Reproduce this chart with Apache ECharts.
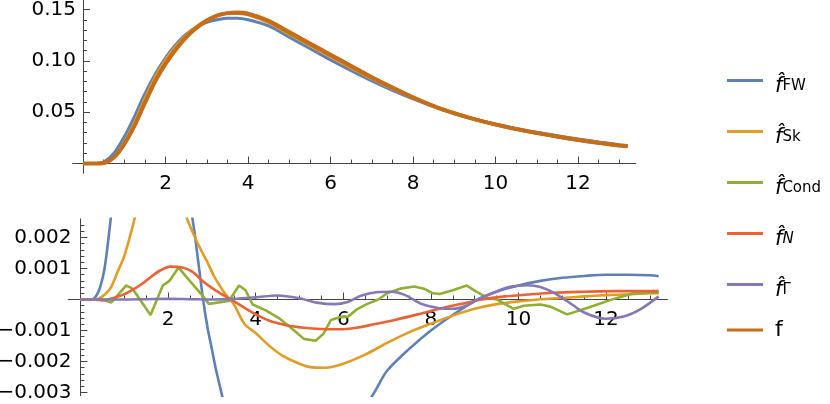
<!DOCTYPE html>
<html>
<head>
<meta charset="utf-8">
<script src="https://cdn.jsdelivr.net/npm/echarts@6.0.0/dist/echarts.min.js"></script>
<style>
html, body { margin: 0; padding: 0; background: #fff; }
#main { width: 830px; height: 404px; }
</style>
</head>
<body>
<div id="main"></div>
<script>
// ---- top panel: the densities ----
var topX = [0, 0.25, 0.5, 0.75, 1, 1.25, 1.5, 1.75, 2, 2.25, 2.5, 2.75, 3, 3.25, 3.5, 3.75, 4, 4.5, 5, 5.5,
    6, 6.5, 7, 7.5, 8, 8.5, 9, 9.5, 10, 10.5, 11, 11.5, 12, 12.5, 13, 13.2];
var fTrue = [0, 0, 0.0005, 0.006, 0.019, 0.037, 0.059, 0.080, 0.097, 0.111, 0.123, 0.132, 0.139, 0.144, 0.1465, 0.147, 0.146, 0.139, 0.128, 0.117,
    0.106, 0.095, 0.084, 0.074, 0.0645, 0.056, 0.049, 0.043, 0.038, 0.0335, 0.0297, 0.0263, 0.0231, 0.0202, 0.0176, 0.0168];
var fFW = [0, 0, 0.0015, 0.010, 0.026, 0.046, 0.068, 0.087, 0.103, 0.116, 0.126, 0.133, 0.1375, 0.140, 0.1415, 0.1415, 0.140, 0.134, 0.123, 0.112,
    0.101, 0.0905, 0.0805, 0.0713, 0.063, 0.0555, 0.0489, 0.0433, 0.0384, 0.0341, 0.0304, 0.0271, 0.0239, 0.0210, 0.0184, 0.0175];
var fSk = [0, 0, 0.0006, 0.0065, 0.0205, 0.040, 0.063, 0.084, 0.101, 0.114, 0.125, 0.1335, 0.140, 0.1444, 0.1463, 0.1462, 0.1449, 0.1372, 0.1259, 0.1149,
    0.1040, 0.0932, 0.0826, 0.0729, 0.0637, 0.0555, 0.0487, 0.0428, 0.0379, 0.0335, 0.0297, 0.0264, 0.0232, 0.0204, 0.0178, 0.0170];
var fCond = [0, 0, 0.0005, 0.0059, 0.0194, 0.0368, 0.0586, 0.0804, 0.0976, 0.1118, 0.1232, 0.1321, 0.1389, 0.1441, 0.1464, 0.1466, 0.1457, 0.1386, 0.1268, 0.1159,
    0.1055, 0.0949, 0.0842, 0.0744, 0.0647, 0.0563, 0.0492, 0.0430, 0.0377, 0.0333, 0.0295, 0.0262, 0.0231, 0.0203, 0.0178, 0.0170];
var fN = [0, 0, 0.0005, 0.0061, 0.0192, 0.0374, 0.0596, 0.0809, 0.0980, 0.1120, 0.1239, 0.1326, 0.1393, 0.1441, 0.1465, 0.1467, 0.1454, 0.1382, 0.1271, 0.1161,
    0.1051, 0.0942, 0.0834, 0.0735, 0.0642, 0.0559, 0.0490, 0.0431, 0.0381, 0.0336, 0.0299, 0.0265, 0.0234, 0.0205, 0.0179, 0.0171];
var fGamma = [0, 0, 0.0005, 0.006, 0.0190, 0.0370, 0.0590, 0.0800, 0.0970, 0.1110, 0.1230, 0.1320, 0.1390, 0.1440, 0.1465, 0.1470, 0.1461, 0.1391, 0.1279, 0.1169,
    0.1058, 0.0951, 0.0843, 0.0740, 0.0642, 0.0557, 0.0490, 0.0433, 0.0384, 0.0339, 0.0298, 0.0259, 0.0225, 0.0198, 0.0174, 0.0169];

// ---- bottom panel: estimate minus f ----
var dFWx = [0, 0.25, 0.35, 0.45, 0.55, 0.65, 0.8, 1, 1.5, 2, 2.3, 2.5, 2.6, 2.7, 2.8, 2.9, 3, 3.1, 3.2, 3.3,
    3.5, 4, 5, 6, 6.5, 6.75, 7, 7.5, 8, 8.5, 9, 9.5, 10, 10.5, 11, 11.5, 12, 12.5, 13, 13.2];
var dFW = [0, 0, 0.0001, 0.0004, 0.001, 0.0021, 0.004, 0.0065, 0.009, 0.0075, 0.0048, 0.0031, 0.0022, 0.0011, 0, -0.0009, -0.0016, -0.0023, -0.0029, -0.0035,
    -0.0045, -0.006, -0.0068, -0.005, -0.0035, -0.0029, -0.0023, -0.0016, -0.001, -0.0005, -0.00005, 0.00025, 0.00045, 0.0006, 0.0007, 0.00076, 0.0008, 0.0008, 0.00078, 0.00075];
var dSkx = [0, 0.25, 0.4, 0.5, 0.6, 0.7, 0.85, 1, 1.2, 1.5, 2, 2.3, 2.45, 2.6, 2.75, 2.9, 3.05, 3.2, 3.35, 3.5,
    3.75, 4, 4.3, 4.6, 5, 5.3, 5.6, 6, 6.5, 7, 7.5, 8, 8.5, 9, 9.5, 10, 10.5, 11, 11.5, 12, 12.5, 13, 13.2];
var dSk = [0, 0, 0.00002, 0.0001, 0.00022, 0.0004, 0.0009, 0.0014, 0.0024, 0.004, 0.0042, 0.0031, 0.00255, 0.00205, 0.0016, 0.0012, 0.00075, 0.0004, 0.0001, -0.00015,
    -0.0008, -0.00108, -0.00148, -0.0018, -0.00207, -0.00219, -0.0022, -0.00207, -0.00178, -0.0014, -0.00106, -0.00078, -0.00052, -0.0003, -0.00015, -0.00006, 0.00001, 0.00005, 0.0001, 0.00014,
    0.00017, 0.0002, 0.0002];
var dCondx = [0, 0.5, 0.7, 1.04, 1.19, 1.6, 1.88, 2.03, 2.24, 2.52, 2.8, 2.93, 3.39, 3.62, 3.77, 3.93, 4.23, 4.55, 4.88, 5.1,
    5.37, 5.55, 5.72, 5.95, 6.1, 6.33, 6.55, 6.8, 7, 7.3, 7.62, 7.84, 8.05, 8.2, 8.5, 8.82, 9.02, 9.29, 9.51, 9.89,
    10.12, 10.5, 10.73, 11.11, 11.41, 11.72, 12.17, 12.63, 13.2];
var dCond = [0, 0, -0.0001, 0.00045, 0.00035, -0.0005, 0.00045, 0.0006, 0.00103, 0.00056, 0.0001, -0.00014, -0.00005, 0.00045, 0.0003, -0.00016, -0.00035, -0.00062, -0.001, -0.00127,
    -0.00133, -0.0011, -0.00066, -0.00056, -0.00056, -0.0003, -0.00014, 0, 0.0002, 0.00035, 0.00042, 0.00035, 0.0002, 0.00018, 0.0003, 0.00045, 0.00027, 0.00005, 0, -0.0003,
    -0.0002, -0.00016, -0.00023, -0.00048, -0.00035, -0.0002, 0.00002, 0.0002, 0.00022];
var dNx = [0, 0.3, 0.5, 0.7, 0.95, 1.2, 1.4, 1.6, 1.8, 2.05, 2.3, 2.55, 2.8, 3.1, 3.5, 3.9, 4.3, 4.7, 5.1, 5.5,
    5.9, 6.3, 6.7, 7.2, 7.7, 8.2, 8.7, 9.2, 9.7, 10.2, 10.8, 11.5, 12.2, 13.2];
var dN = [0, 0, -0.00003, 0.00003, 0.00014, 0.00032, 0.0005, 0.00072, 0.00092, 0.00106, 0.00104, 0.0009, 0.00058, 0.00028, -0.00005, -0.0004, -0.00068, -0.00083, -0.00091, -0.00095,
    -0.00096, -0.00091, -0.0008, -0.00065, -0.00048, -0.0003, -0.00014, 0.00001, 0.0001, 0.00016, 0.00022, 0.00025, 0.00027, 0.00027];
var dGx = [0, 1, 1.5, 2, 2.5, 3, 3.5, 4, 4.5, 5, 5.4, 5.8, 6.1, 6.4, 6.8, 7.1, 7.4, 7.8, 8.2, 8.5,
    8.8, 9.1, 9.5, 9.8, 10.2, 10.5, 10.8, 11.1, 11.5, 12, 12.4, 12.8, 13.2];
var dG = [0, 0, 0.00001, 0.00002, 0.00001, 0, 0.00002, 0.00007, 0.00013, 0.00004, -0.0001, -0.00015, -0.00008, 0.00012, 0.00024, 0.00025, 0.00015, -0.00015, -0.00028, -0.0003,
    -0.0002, 0.00003, 0.00026, 0.00041, 0.00046, 0.0004, 0.00022, -0.00004, -0.00042, -0.00062, -0.00055, -0.0003, 0.0001];

// ---- names, colours, tick steps ----
var names = ['FW', 'Sk', 'Cond', 'N', 'Γ', 'f'];
var colors = ['#5E81B5', '#E19C24', '#8FB032', '#EB6235', '#8778B3', '#C56E1A'];
var xStep = 2, xMinorStep = 0.5;             // x ticks: labels 2 ... 12
var topYStep = 0.05, topYMinorStep = 0.01;   // 0.05, 0.10, 0.15
var botYStep = 0.001, botYMinorStep = 0.0002; // -0.003 ... 0.002

function pairs(xs, ys) {
    var out = [];
    for (var i = 0; i < xs.length; i++) out.push([xs[i], ys[i]]);
    return out;
}

var axisColor = '#444';
var labelStyle = { fontFamily: 'DejaVu Sans', fontSize: 20, color: '#000' };

// axis that only draws the line through zero (data grids)
function lineAxis(grid, min, max, pos, zeroIdx) {
    return {
        gridIndex: grid, type: 'value', min: min, max: max, position: pos,
        axisLine: { show: true, onZero: true, onZeroAxisIndex: zeroIdx, lineStyle: { color: axisColor, width: 1 } },
        axisTick: { show: false }, axisLabel: { show: false }, splitLine: { show: false }
    };
}
// axis that draws ticks (and maybe labels) on the edge of a helper grid
function tickAxis(grid, min, max, pos, step, len, fmt, margin, pad) {
    var ax = {
        gridIndex: grid, type: 'value', min: min, max: max, interval: step, position: pos,
        axisLine: { show: false, onZero: false },
        axisTick: { show: true, inside: true, length: len, lineStyle: { color: axisColor, width: 1 } },
        axisLabel: { show: false }, splitLine: { show: false }
    };
    if (fmt) {
        ax.axisLabel = { show: true, formatter: fmt, margin: margin, showMinLabel: true, showMaxLabel: true,
            align: pos === 'left' ? 'right' : 'center', lineHeight: 14, padding: pad || 0,
            fontFamily: labelStyle.fontFamily, fontSize: labelStyle.fontSize, color: labelStyle.color };
    }
    return ax;
}
function hiddenAxis(grid, min, max) {
    return { gridIndex: grid, type: 'value', min: min, max: max, show: false, splitLine: { show: false } };
}

var isZero = function (v) { return Math.abs(v) < 1e-12; };
var fmtX = function (v) { return isZero(v) ? '' : String(Math.round(v)); };
var fmtTop = function (v) { return isZero(v) ? '' : v.toFixed(2); };
var fmtBot = function (v) { return isZero(v) ? '' : (v < 0 ? '\u2212' : '') + Math.abs(v).toFixed(3); };

var series = [];
[fFW, fSk, fCond, fN, fGamma, fTrue].forEach(function (ys, i) {
    series.push({
        name: names[i], type: 'line', xAxisIndex: 0, yAxisIndex: 0,
        data: pairs(topX, ys), smooth: 0.3, symbol: 'none', z: 2 + i,
        lineStyle: { width: i === 5 ? 4 : 3, color: colors[i] },
        itemStyle: { color: colors[i] }
    });
});
[[dFWx, dFW], [dSkx, dSk], [dCondx, dCond], [dNx, dN], [dGx, dG]].forEach(function (d, i) {
    series.push({
        name: names[i], type: 'line', xAxisIndex: 3, yAxisIndex: 3,
        data: pairs(d[0], d[1]), smooth: i === 2 ? false : 0.3, symbol: 'none', z: 2 + i,
        lineStyle: { width: 2.6, color: colors[i] },
        itemStyle: { color: colors[i] }
    });
});

var myChart = echarts.init(document.getElementById('main'));
var option = {
    animation: false,
    backgroundColor: '#fff',
    color: colors,
    grid: [
        { left: 72.7, top: 0.3, width: 563.1, height: 173, outerBoundsMode: 'none' },      // 0 top data
        { left: 83, top: 9.54, width: 495.05, height: 154, outerBoundsMode: 'none' },      // 1 top major ticks
        { left: 83, top: 9.54, width: 536.3, height: 154, outerBoundsMode: 'none' },       // 2 top minor ticks
        { left: 68.2, top: 218.9, width: 599.2, height: 176.7, outerBoundsMode: 'none' },  // 3 bottom data
        { left: 80.46, top: 237.5, width: 525.6, height: 62, outerBoundsMode: 'none' },    // 4 bottom x major
        { left: 80.46, top: 237.5, width: 569.4, height: 62, outerBoundsMode: 'none' },    // 5 bottom x minor
        { left: 80.46, top: 237.5, width: 525.6, height: 155, outerBoundsMode: 'none' },   // 6 bottom y major
        { left: 80.46, top: 225.1, width: 525.6, height: 167.4, outerBoundsMode: 'none' }  // 7 bottom y minor
    ],
    xAxis: [
        lineAxis(0, -0.25, 13.4, 'bottom', 0),                          // 0
        tickAxis(1, 0, 12, 'bottom', xStep, 7, fmtX, 13),               // 1
        tickAxis(2, 0, 13, 'bottom', xMinorStep, 4),                    // 2
        lineAxis(3, -0.28, 13.4, 'bottom', 3),                          // 3
        tickAxis(4, 0, 12, 'bottom', xStep, 7, fmtX, 13),               // 4
        tickAxis(5, 0, 13, 'bottom', xMinorStep, 4),                    // 5
        hiddenAxis(6, 0, 12),                                           // 6
        hiddenAxis(7, 0, 12)                                            // 7
    ],
    yAxis: [
        lineAxis(0, -0.0095, 0.159, 'left', 0),                                 // 0
        tickAxis(1, 0, 0.15, 'left', topYStep, 7, fmtTop, 7, [0, 0, 0, 29]),    // 1
        tickAxis(2, 0, 0.15, 'left', topYMinorStep, 4),                         // 2
        lineAxis(3, -0.0031, 0.0026, 'left', 3),                                // 3
        hiddenAxis(4, 0, 0.002),                                                // 4
        hiddenAxis(5, 0, 0.002),                                                // 5
        tickAxis(6, -0.003, 0.002, 'left', botYStep, 7, fmtBot, 9),             // 6
        tickAxis(7, -0.003, 0.0024, 'left', botYMinorStep, 4)                   // 7
    ],
    legend: {
        orient: 'vertical', left: 727, top: 64, padding: 0,
        icon: 'rect', itemWidth: 36, itemHeight: 3, itemGap: 18,
        selectedMode: false,
        data: names,
        formatter: function (name) {
            if (name === 'f') return '{plain|f}';
            return '{hat|f\u0302}{' + (name === 'N' ? 'subIt' : 'sub') + '|' + name + '}';
        },
        textStyle: {
            color: '#000',
            rich: {
                hat: { fontFamily: 'DejaVu Sans', fontStyle: 'italic', fontSize: 21, lineHeight: 26, padding: [12, 0, 0, 7], color: '#000' },
                sub: { fontFamily: 'DejaVu Sans', fontSize: 15, lineHeight: 18, verticalAlign: 'bottom', color: '#000' },
                subIt: { fontFamily: 'DejaVu Sans', fontStyle: 'italic', fontSize: 15, lineHeight: 18, verticalAlign: 'bottom', color: '#000' },
                plain: { fontFamily: 'DejaVu Sans', fontSize: 22, lineHeight: 20, padding: [0, 0, 0, 7], color: '#000' }
            }
        }
    },
    series: series
};
myChart.setOption(option);
</script>
</body>
</html>
